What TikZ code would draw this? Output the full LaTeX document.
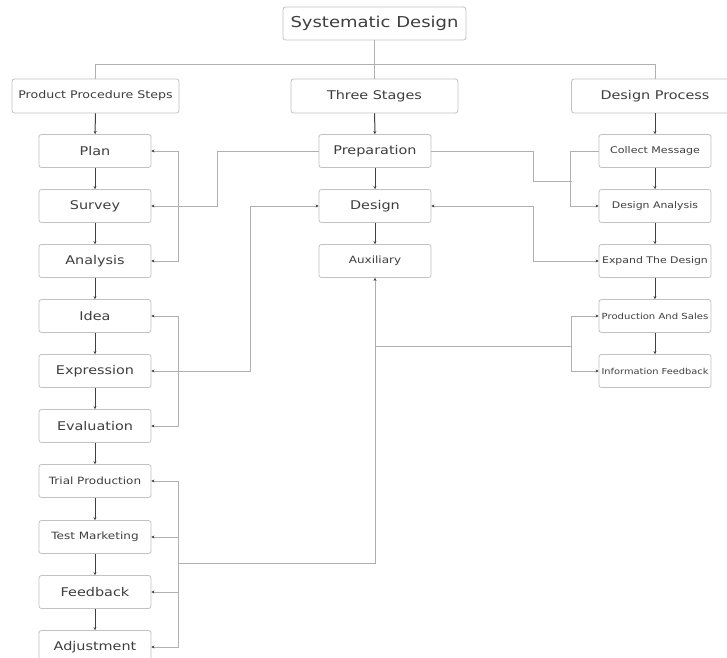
\documentclass[tikz,border=0pt]{standalone}
\usepackage{fontspec}
\setmainfont{DejaVu Sans}[FakeStretch=1.2]
\usepackage{tikz}
\usetikzlibrary{arrows.meta}
\usetikzlibrary{calc}

\definecolor{boxgray}{HTML}{C2C2C2}
\definecolor{linegray}{HTML}{B0B0B0}
\definecolor{txtgray}{HTML}{3E3E3E}
\definecolor{tipgray}{HTML}{404040}

\newcommand{\sz}[1]{\fontsize{#1}{#1}\selectfont}

\tikzset{
    stepbox/.style={draw=boxgray, line width=0.8pt, rounded corners=2.5pt, fill=white, text=txtgray,
        minimum width=112pt, minimum height=33pt, inner sep=0pt, font=\sz{12}},
    headbox/.style={stepbox, minimum width=167pt, minimum height=34pt},
    chain/.style={draw=tipgray, line width=1pt, -{Stealth[length=3pt,width=3pt]}},
    side/.style={draw=linegray, line width=0.8pt, >={Stealth[length=3pt,width=3pt,color=tipgray]}},
    tree/.style={draw=linegray, line width=0.8pt},
}

\begin{document}
\begin{tikzpicture}[x=1pt, y=-1pt]
            \useasboundingbox (0,0) rectangle (727,657);
            \clip (0,0) rectangle (727,657);
            % top and the three heads
            \node[stepbox, minimum width=183pt, font=\sz{15}] (sd) at (374.5,23.5) {Systematic Design};
            \node[headbox, font=\sz{10.5}] (pps) at (95.5,96) {Product Procedure Steps};
            \node[headbox] (ts) at (374.5,96) {Three Stages};
            \node[headbox] (dp) at (655,96) {Design Process};
            \coordinate (bus) at (0,64);
            \draw[tree] (pps.north) -- (pps.north |- bus) -- (dp.north |- bus) -- (dp.north);
            \draw[tree] (sd.south) -- (sd.south |- bus);
            \draw[tree] (ts.north) -- (ts.north |- bus);
            % product procedure steps
            \node[stepbox] (plan) at (95,151) {Plan};
            \node[stepbox] (survey) at (95,206) {Survey};
            \node[stepbox] (analysis) at (95,261) {Analysis};
            \node[stepbox] (idea) at (95,316) {Idea};
            \node[stepbox] (expression) at (95,371) {Expression};
            \node[stepbox] (evaluation) at (95,426) {Evaluation};
            \node[stepbox, font=\sz{10}] (trial) at (95,481) {Trial Production};
            \node[stepbox, font=\sz{10}] (testm) at (95,537) {Test Marketing};
            \node[stepbox] (feedback) at (95,592) {Feedback};
            \node[stepbox] (adjust) at (95,647) {Adjustment};
            % three stages
            \node[stepbox] (prep) at (375,151) {Preparation};
            \node[stepbox] (design) at (375,206) {Design};
            \node[stepbox, font=\sz{10}] (aux) at (375,261) {Auxiliary};
            % design process
            \node[stepbox, font=\sz{9.2}] (collect) at (655,151) {Collect Message};
            \node[stepbox, font=\sz{9.1}] (danalysis) at (655,206) {Design Analysis};
            \node[stepbox, font=\sz{9.1}] (expand) at (655,261) {Expand The Design};
            \node[stepbox, font=\sz{8.4}] (prodsales) at (655,316) {Production And Sales};
            \node[stepbox, font=\sz{8.2}] (infofb) at (655,371) {Information Feedback};
            % columns
            \draw[chain] (pps) -- (plan);
            \draw[chain] (plan) -- (survey);
            \draw[chain] (survey) -- (analysis);
            \draw[chain] (analysis) -- (idea);
            \draw[chain] (idea) -- (expression);
            \draw[chain] (expression) -- (evaluation);
            \draw[chain] (evaluation) -- (trial);
            \draw[chain] (trial) -- (testm);
            \draw[chain] (testm) -- (feedback);
            \draw[chain] (feedback) -- (adjust);
            \draw[chain] (ts) -- (prep);
            \draw[chain] (prep) -- (design);
            \draw[chain] (design) -- (aux);
            \draw[chain] (dp) -- (collect);
            \draw[chain] (collect) -- (danalysis);
            \draw[chain] (danalysis) -- (expand);
            \draw[chain] (expand) -- (prodsales);
            \draw[chain] (prodsales) -- (infofb);
            % cross links
            \draw[side,<->] (plan.east) -- ++(27,0) |- (analysis.east);
            \draw[side,->] (prep.west) -- ++(-101,0) |- (survey.east);
            \draw[side,<->] (design.west) -- ++(-68,0) |- (expression.east);
            \draw[side,<->] (idea.east) -- ++(27,0) |- (evaluation.east);
            \draw[side,<->] (trial.east) -- ++(27,0) coordinate (lb) |- (adjust.east);
            \draw[side,->] (lb |- testm.east) -- (testm.east);
            \draw[side,->] (lb |- feedback.east) -- (feedback.east);
            \coordinate (lbj) at (178,563);
            \draw[side,->] (lbj) -| (aux.south);
            \coordinate (rj) at (572,346);
            \draw[side] (aux.south |- rj) -- (rj);
            \draw[side,<->] (prodsales.west) -- ++(-27,0) |- (infofb.west);
            \draw[side] (prep.east) -| (533,181) -- (572,181);
            \draw[side,->] (collect.west) -- ++(-28,0) |- (danalysis.west);
            \draw[side,<->] (design.east) -- ++(102,0) |- (expand.west);
        \end{tikzpicture}
\end{document}
